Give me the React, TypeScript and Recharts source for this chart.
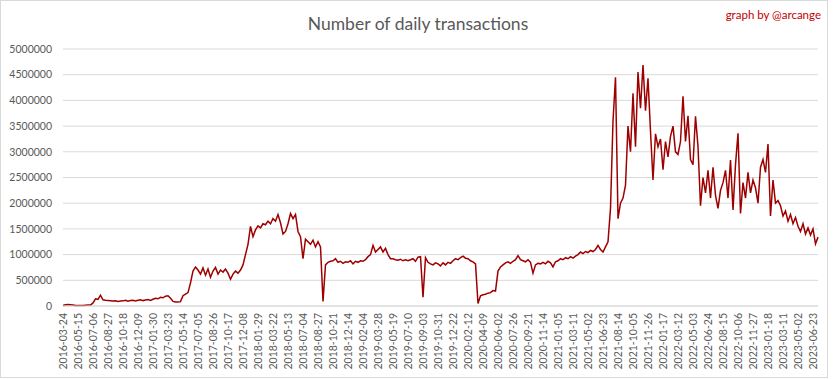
import React from 'react';
import { LineChart, Line, XAxis, YAxis, CartesianGrid } from 'recharts';

// x axis labels (one every 6 points)
const tickLabels = [
  '2016-03-24', '2016-05-15', '2016-07-06', '2016-08-27', '2016-10-18', '2016-12-09',
  '2017-01-30', '2017-03-23', '2017-05-14', '2017-07-05', '2017-08-26', '2017-10-17',
  '2017-12-08', '2018-01-29', '2018-03-22', '2018-05-13', '2018-07-04', '2018-08-27',
  '2018-10-21', '2018-12-14', '2019-02-04', '2019-03-28', '2019-05-19', '2019-07-10',
  '2019-09-03', '2019-10-31', '2019-12-22', '2020-02-12', '2020-04-09', '2020-06-02',
  '2020-07-26', '2020-09-21', '2020-11-14', '2021-01-05', '2021-03-11', '2021-05-02',
  '2021-06-23', '2021-08-14', '2021-10-05', '2021-11-26', '2022-01-17', '2022-03-12',
  '2022-05-03', '2022-06-24', '2022-08-15', '2022-10-06', '2022-11-27', '2023-01-18',
  '2023-03-11', '2023-05-02', '2023-06-23',
];

// transactions (6 samples per label interval)
const transactions = [
  10000, 25000, 30000, 25000, 20000, 10000,
  8000, 10000, 12000, 15000, 18000, 20000,
  60000, 140000, 130000, 210000, 120000, 110000,
  105000, 100000, 95000, 100000, 90000, 95000,
  100000, 110000, 95000, 105000, 110000, 100000,
  110000, 120000, 105000, 115000, 125000, 110000,
  130000, 150000, 140000, 170000, 160000, 190000,
  200000, 150000, 90000, 80000, 80000, 85000,
  200000, 230000, 260000, 450000, 680000, 760000,
  700000, 620000, 740000, 600000, 720000, 560000,
  680000, 750000, 620000, 700000, 660000, 720000,
  640000, 520000, 620000, 680000, 640000, 700000,
  800000, 1000000, 1200000, 1550000, 1350000, 1480000,
  1560000, 1520000, 1600000, 1580000, 1650000, 1600000,
  1700000, 1650000, 1780000, 1620000, 1400000, 1450000,
  1600000, 1800000, 1700000, 1780000, 1450000, 1350000,
  920000, 1300000, 1250000, 1200000, 1280000, 1150000,
  1250000, 1150000, 90000, 800000, 850000, 870000,
  880000, 920000, 850000, 870000, 830000, 860000,
  850000, 880000, 820000, 870000, 850000, 880000,
  870000, 900000, 960000, 1000000, 1180000, 1050000,
  1100000, 1150000, 1050000, 1120000, 1000000, 920000,
  920000, 900000, 890000, 910000, 880000, 900000,
  880000, 900000, 920000, 870000, 950000, 960000,
  170000, 940000, 850000, 820000, 800000, 840000,
  820000, 780000, 840000, 800000, 850000, 830000,
  880000, 920000, 900000, 940000, 970000, 930000,
  920000, 880000, 860000, 820000, 50000, 200000,
  220000, 230000, 250000, 260000, 300000, 290000,
  680000, 760000, 800000, 840000, 860000, 830000,
  870000, 900000, 980000, 900000, 880000, 860000,
  900000, 850000, 640000, 800000, 830000, 820000,
  850000, 820000, 870000, 840000, 760000, 860000,
  880000, 920000, 900000, 940000, 920000, 960000,
  930000, 970000, 1000000, 1050000, 1020000, 1060000,
  1040000, 1080000, 1060000, 1100000, 1180000, 1100000,
  1050000, 1150000, 1250000, 1900000, 3600000, 4450000,
  1700000, 2000000, 2100000, 2350000, 3500000, 3000000,
  4140000, 3100000, 4550000, 3850000, 4690000, 3800000,
  4430000, 3400000, 2450000, 3350000, 3100000, 3250000,
  2650000, 3200000, 2900000, 3300000, 3500000, 3000000,
  2950000, 3200000, 4080000, 3200000, 3700000, 2850000,
  2750000, 3690000, 3100000, 1950000, 2500000, 2200000,
  2640000, 2100000, 2700000, 2150000, 1900000, 2250000,
  2400000, 2640000, 2100000, 2840000, 1870000, 2750000,
  3360000, 1800000, 2400000, 2100000, 2600000, 2200000,
  2450000, 2300000, 2000000, 2700000, 2850000, 2600000,
  3150000, 1750000, 2450000, 2000000, 2050000, 1950000,
  1750000, 1850000, 1650000, 1780000, 1600000, 1720000,
  1550000, 1450000, 1600000, 1400000, 1520000, 1380000,
  1500000, 1210000, 1340000,
];

const yTicks = [0, 500000, 1000000, 1500000, 2000000, 2500000, 3000000, 3500000, 4000000, 4500000, 5000000];

const data = transactions.map((v, i) => ({ idx: i, tx: v }));
const xTicks = tickLabels.map((_, k) => k * 6);

const FONT = 'Lato, "Liberation Sans", sans-serif';
const GREY = '#595959';

const DateTick = (props: any) => {
  const { x, y, payload } = props;
  const label = tickLabels[Math.round(payload.value / 6)];
  return (
    <g transform={`translate(${x},${y - 1})`}>
      <text transform="rotate(-90)" textAnchor="end" dy="0.35em" fontSize={10.5} fill={GREY} fontFamily={FONT}>
        {label}
      </text>
    </g>
  );
};

const W = 828;
const H = 378;

export default function App() {
  return (
    <div style={{ position: 'absolute', left: 0, top: 0, width: W, height: H, background: '#fff', border: '1px solid #d9d9d9', boxSizing: 'border-box' }}>
      <svg width={W} height={H} style={{ position: 'absolute', left: 0, top: 0, pointerEvents: 'none' }}>
        <text x={417} y={29} textAnchor="middle" fontSize={17.5} fill={GREY} fontFamily={FONT}>
          Number of daily transactions
        </text>
        <text x={820} y={18} textAnchor="end" fontSize={11.5} fill="#c00000" fontFamily={FONT}>
          graph by @arcange
        </text>
      </svg>
      <div style={{ position: 'absolute', left: -1, top: -1 }}>
        <LineChart width={W} height={H} data={data} margin={{ top: 49, right: 10, left: 0, bottom: 0 }}>
          <CartesianGrid vertical={false} stroke="#d9d9d9" />
          <XAxis
            dataKey="idx"
            type="category"
            ticks={xTicks}
            interval={0}
            tick={<DateTick />}
            tickLine={false}
            axisLine={{ stroke: '#d9d9d9' }}
            height={72}
          />
          <YAxis
            domain={[0, 5000000]}
            ticks={yTicks}
            interval={0}
            width={63}
            axisLine={false}
            tickLine={false}
            tickMargin={5}
            tick={{ fontSize: 10.5, fill: GREY, fontFamily: FONT }}
          />
          <Line
            type="linear"
            dataKey="tx"
            stroke="#9e0000"
            strokeWidth={1.5}
            dot={false}
            isAnimationActive={false}
          />
        </LineChart>
      </div>
    </div>
  );
}
